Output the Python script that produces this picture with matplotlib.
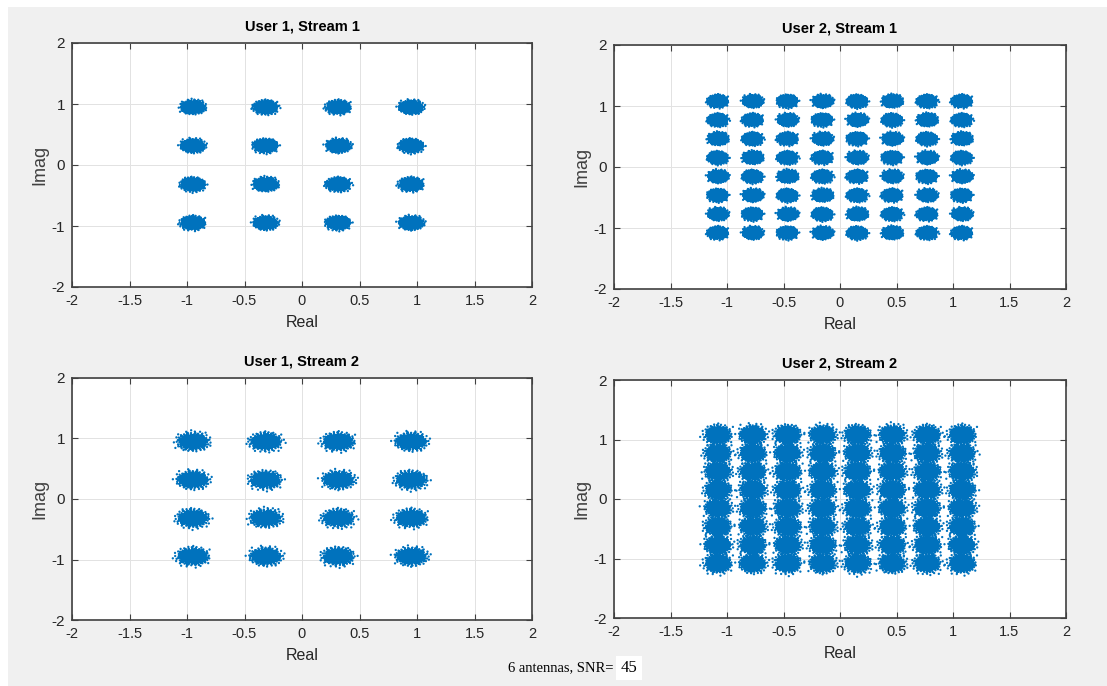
import numpy as np
import matplotlib
matplotlib.use("Agg")
import matplotlib.pyplot as plt
from matplotlib.path import Path
from matplotlib.collections import PathCollection
from matplotlib.transforms import IdentityTransform, Affine2D
from matplotlib.patches import Rectangle

# ---------------- data ----------------
qam16_levels = [-0.949, -0.316, 0.316, 0.949]
qam64_levels = [-1.080, -0.772, -0.463, -0.154, 0.154, 0.463, 0.772, 1.080]
panel_titles = ["User 1, Stream 1", "User 2, Stream 1",
                "User 1, Stream 2", "User 2, Stream 2"]
panel_levels = [qam16_levels, qam64_levels, qam16_levels, qam64_levels]
# estimated noise spread of each cluster (data units), per panel
spread_real = [0.046, 0.038, 0.060, 0.050]
spread_imag = [0.050, 0.045, 0.066, 0.070]
x_ticks = [-2, -1.5, -1, -0.5, 0, 0.5, 1, 1.5, 2]
x_tick_labels = ["-2", "-1.5", "-1", "-0.5", "0", "0.5", "1", "1.5", "2"]
y_ticks = [-2, -1, 0, 1, 2]
y_tick_labels = ["-2", "-1", "0", "1", "2"]
n_antennas = 6
snr_db = 45

# ---------------- style ----------------
W, H, DPI = 1107, 686, 100
BLUE = "#0072BD"
AX_COL = "#404040"
TXT_COL = "#262626"
SANS = ["Liberation Sans", "DejaVu Sans"]
SERIF = ["Liberation Serif", "DejaVu Serif"]
# tail depth of each panel's noise cloud (style)
tail_depth = [0.985, 0.985, 0.99, 0.997]

fig = plt.figure(figsize=(W / DPI, H / DPI), dpi=DPI, facecolor="white")
fig.add_artist(Rectangle((8 / W, 0), 1 - 8 / W, 1 - 7 / H, transform=fig.transFigure,
                         facecolor="#f0f0f0", edgecolor="none", zorder=-10))

# axes boxes in pixels: x0, y0(top), x1, y1(bottom)
boxes = [(72, 43, 532, 287), (614, 45, 1066, 289),
         (72, 378, 532, 620), (614, 380, 1066, 618)]


def cloud_paths(sx_px, sy_px, n_dots, dot_r, umax, n_variants=7):
    """Texture of a received-symbol cloud, in pixels (a marker shape)."""
    circ = Path.unit_circle()
    g = 1.32471795724474602596
    a1, a2 = 1 / g, 1 / g ** 2
    out = []
    for v in range(n_variants):
        i = np.arange(n_dots) + v * 977
        u = (0.37 + a1 * i) % 1.0
        w = (0.71 + a2 * i) % 1.0
        r = np.sqrt(-2 * np.log(1 - umax * u))
        th = 2 * np.pi * w
        dx = r * np.cos(th) * sx_px
        dy = r * np.sin(th) * sy_px
        dots = [circ.transformed(Affine2D().scale(dot_r).translate(a, b))
                for a, b in zip(dx, dy)]
        out.append(Path.make_compound_path(*dots))
    return out


for k in range(4):
    x0, y0, x1, y1 = boxes[k]
    ax = fig.add_axes([x0 / W, 1 - y1 / H, (x1 - x0) / W, (y1 - y0) / H])
    ax.set_xlim(-2, 2)
    ax.set_ylim(-2, 2)
    ax.set_facecolor("white")
    ax.set_xticks(x_ticks)
    ax.set_xticklabels(x_tick_labels, family=SANS, fontsize=10.5, color=TXT_COL)
    ax.set_yticks(y_ticks)
    ax.set_yticklabels(y_tick_labels, family=SANS, fontsize=11, color=TXT_COL)
    ax.tick_params(direction="in", top=True, right=True, length=4, width=0.8,
                   color=AX_COL, pad=5)
    ax.grid(True, color="#e2e2e2", linewidth=0.7)
    ax.set_axisbelow(True)
    for s in ax.spines.values():
        s.set_color(AX_COL)
        s.set_linewidth(1.2)
    ax.set_title(panel_titles[k], family=SANS, fontsize=10.5, fontweight="bold",
                 color="black", pad=9)
    ax.set_xlabel("Real", family=SANS, fontsize=11.5, color=TXT_COL, labelpad=5)
    ax.set_ylabel("Imag", family=SANS, fontsize=13, color=AX_COL, labelpad=2)

    lev = panel_levels[k]
    centers = np.array([(re, im) for im in lev for re in lev])
    p0 = ax.transData.transform((0, 0))
    p1 = ax.transData.transform((1, 1))
    ppx, ppy = p1[0] - p0[0], p1[1] - p0[1]
    paths = cloud_paths(spread_real[k] * ppx, spread_imag[k] * ppy,
                        n_dots=420, dot_r=1.15, umax=tail_depth[k])
    coll = PathCollection(paths, offsets=centers, offset_transform=ax.transData,
                          transform=IdentityTransform(), facecolors=BLUE,
                          edgecolors="none", zorder=3)
    ax.add_collection(coll, autolim=False)

fig.text(614 / W, 1 - 668 / H, f"{n_antennas} antennas, SNR=", ha="right", va="center",
         family=SERIF, fontsize=10.5, color="black")
fig.text(629 / W, 1 - 668 / H, f"{snr_db}", ha="center", va="center",
         family=SERIF, fontsize=12, color="black",
         bbox=dict(facecolor="white", edgecolor="none", pad=3))

fig.savefig("out.png", dpi=DPI, facecolor=fig.get_facecolor())
